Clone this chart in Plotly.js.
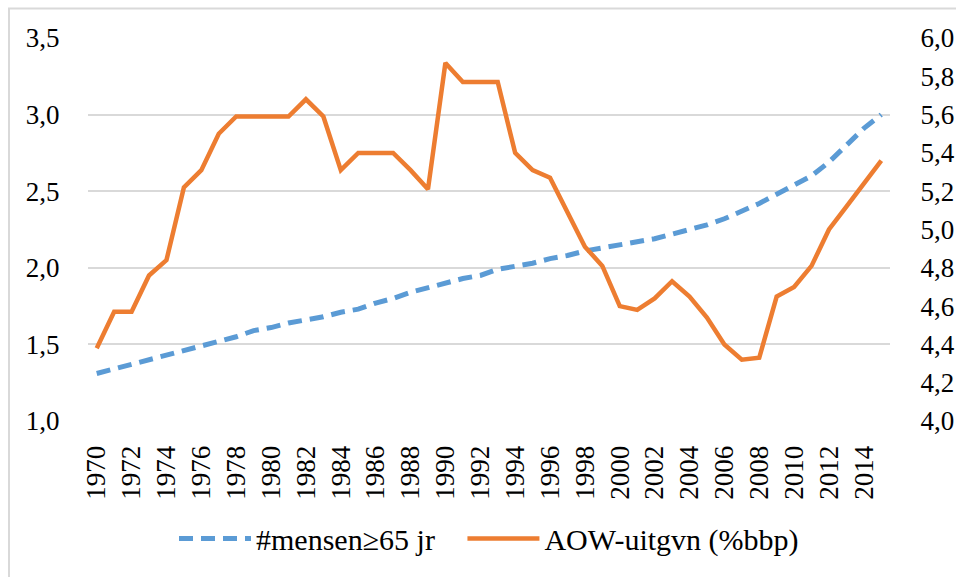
<!DOCTYPE html>
<html>
<head>
<meta charset="utf-8">
<script src="https://cdn.plot.ly/plotly-3.0.1.min.js"></script>
<style>
  html, body { margin: 0; padding: 0; background: #ffffff; }
  #chart { width: 956px; height: 577px; }
</style>
</head>
<body>
<div id="chart"></div>
<script>
const years = ["1970","1971","1972","1973","1974","1975","1976","1977","1978","1979",
               "1980","1981","1982","1983","1984","1985","1986","1987","1988","1989",
               "1990","1991","1992","1993","1994","1995","1996","1997","1998","1999",
               "2000","2001","2002","2003","2004","2005","2006","2007","2008","2009",
               "2010","2011","2012","2013","2014","2015"];

const elderly = [1.31,1.34,1.37,1.40,1.43,1.46,1.49,1.52,1.55,1.59,
                 1.61,1.64,1.66,1.68,1.71,1.73,1.77,1.80,1.84,1.87,
                 1.90,1.93,1.95,1.99,2.01,2.03,2.06,2.08,2.11,2.13,
                 2.15,2.17,2.19,2.22,2.25,2.28,2.32,2.37,2.42,2.48,
                 2.54,2.60,2.69,2.80,2.91,3.00];

const aow = [4.38,4.57,4.57,4.76,4.84,5.22,5.31,5.50,5.59,5.59,
             5.59,5.59,5.68,5.59,5.31,5.40,5.40,5.40,5.31,5.21,
             5.87,5.77,5.77,5.77,5.40,5.31,5.27,5.09,4.91,4.81,
             4.60,4.58,4.64,4.73,4.65,4.54,4.40,4.32,4.33,4.65,
             4.70,4.81,5.00,5.12,5.24,5.36];

const seriesNames = ["#mensen\u226565 jr", "AOW-uitgvn (%bbp)"];

const FONT = "'Liberation Serif', 'DejaVu Serif', serif";

const traces = [
  {
    x: years, y: elderly, name: seriesNames[0] + "\u00a0\u00a0\u00a0", type: "scatter", mode: "lines",
    yaxis: "y",
    line: { color: "#5B9BD5", width: 5, dash: "14px,8px" },
    hoverinfo: "skip"
  },
  {
    x: years, y: aow, name: seriesNames[1], type: "scatter", mode: "lines",
    yaxis: "y2",
    line: { color: "#ED7D31", width: 4.5 },
    hoverinfo: "skip"
  }
];

const layout = {
  width: 956, height: 577,
  margin: { l: 88, r: 66, t: 38, b: 151 },
  paper_bgcolor: "#ffffff", plot_bgcolor: "#ffffff",
  separators: ", ",
  font: { family: FONT, color: "#000000", size: 27 },
  showlegend: true,
  legend: {
    orientation: "h", x: 0.5, xanchor: "center", y: -0.307, yanchor: "middle",
    yref: "paper", font: { family: FONT, size: 30, color: "#000000" },
    traceorder: "normal", itemwidth: 72
  },
  xaxis: {
    type: "category", tickangle: -90, dtick: 2,
    showgrid: false, zeroline: false, showline: false,
    ticks: "outside", ticklen: 13, tickcolor: "rgba(0,0,0,0)",
    tickfont: { family: FONT, size: 27, color: "#000000" },
    range: [-0.5, 45.5], fixedrange: true
  },
  yaxis: {
    range: [1, 3.5], dtick: 0.5, tick0: 1, tickformat: ".1f",
    showgrid: true, gridcolor: "#d9d9d9", gridwidth: 2,
    zeroline: false, showline: false,
    ticks: "outside", ticklen: 22, tickcolor: "rgba(0,0,0,0)",
    tickfont: { family: FONT, size: 27, color: "#000000" },
    fixedrange: true
  },
  yaxis2: {
    range: [4, 6], dtick: 0.2, tick0: 4, tickformat: ".1f",
    overlaying: "y", side: "right",
    showgrid: false, zeroline: false, showline: false,
    ticks: "outside", ticklen: 24, tickcolor: "rgba(0,0,0,0)",
    tickfont: { family: FONT, size: 27, color: "#000000" },
    fixedrange: true
  },
  shapes: [
    {
      type: "rect", xref: "paper", yref: "paper",
      x0: -0.0985, x1: 1.2, y0: -0.6, y1: 1.0773,
      line: { color: "#d9d9d9", width: 2 }, fillcolor: "rgba(0,0,0,0)",
      layer: "below"
    }
  ]
};

Plotly.newPlot("chart", traces, layout, { displayModeBar: false, staticPlot: true });
</script>
</body>
</html>
